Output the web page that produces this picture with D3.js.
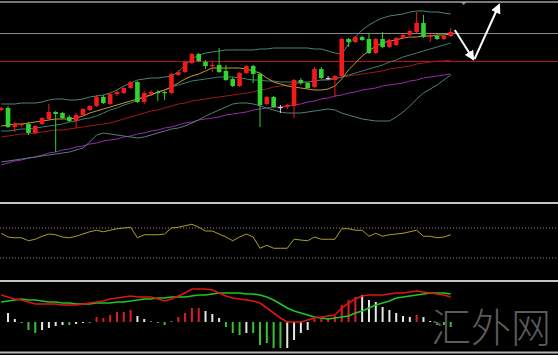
<!DOCTYPE html>
<html>
<head>
<meta charset="utf-8">
<script src="https://cdn.jsdelivr.net/npm/d3@7"></script>
<style>
body { margin: 0; background: #000; }
svg { display: block; }
</style>
</head>
<body>
<svg id="chart" width="558" height="355"></svg>
<script>
// candles (price units)
var opens  = [90,92,73,75,76,67,76,81,88,87,83,79,85,90,94,103,96,106,107,112,118,98,106,108,108,107,125,128,137,146,138,134,135,129,121,114,127,134,126,96,103,93,93,94,120,117,113,131,122,120,124,161,158,163,161,147,161,153,155,162,165,168,177,163,164,161,164];
var highs  = [93,94,78,77,78,75,83,96,89,88,85,87,92,95,105,105,107,110,113,119,119,109,110,110,109,127,130,139,147,147,140,138,152,135,123,128,135,135,127,104,104,95,96,121,122,118,133,133,124,125,162,162,164,164,167,162,168,161,163,166,170,188,185,166,165,165,172];
var lows   = [89,72,68,73,65,66,75,80,48,81,78,72,84,89,93,96,95,104,106,111,97,96,104,99,100,106,124,127,136,138,131,128,127,119,113,113,126,117,73,95,92,87,91,82,115,111,112,121,120,103,123,153,157,159,146,146,152,152,154,161,164,167,162,158,160,160,163];
var closes = [92,73,76,76,67,74,82,88,86,82,79,85,91,94,103,97,106,108,112,118,98,107,108,107,107,126,128,138,146,139,134,135,128,120,114,127,134,126,95,103,93,93,95,120,117,112,131,122,122,124,161,158,163,160,147,161,153,160,162,165,169,177,163,165,161,164,168];

// overlays on the price panel
var maFast   = [74,75,76,76,77,78,79,80,81,81,81,82,84,87,89,91,93,95,97,99,101,103,105,108,110,113,117,121,124,126,129,132,132,132,132,132,131,129,127,122,118,116,114,113,112,111,110,110,111,114,121,130,137,144,149,154,157,159,160,162,163,163,164,164,165,165,166];
var bandMid  = [69,69,70,71,71,72,73,74,75,76,78,79,81,82,84,87,90,92,95,97,100,103,105,108,110,113,115,117,119,120,121,122,123,123,123,122,121,120,120,119,119,118,118,118,118,118,119,120,120,121,123,125,127,129,131,133,135,138,140,143,145,147,149,151,153,155,157];
var bandUp   = [96,96,96,97,97,97,98,100,101,101,100,100,101,103,104,105,107,110,114,117,120,121,122,122,123,124,128,135,141,145,147,148,149,150,150,150,150,150,151,151,152,152,152,152,152,152,151,151,149,147,146,156,163,170,175,179,182,184,185,186,188,189,189,188,188,187,186];
var bandLow  = [38,39,40,41,42,43,44,45,46,47,48,50,52,58,65,67,66,65,64,63,62,63,65,67,69,71,72,74,77,80,84,87,90,93,96,97,97,96,94,92,90,88,87,87,87,88,89,90,91,90,87,85,83,81,80,79,79,79,83,88,94,101,107,111,115,120,125];
var maSlow   = [63,64,65,66,66,67,68,69,70,70,71,72,73,74,75,76,77,79,81,83,85,87,89,90,92,94,96,97,99,100,101,102,103,104,105,106,107,108,110,111,113,114,115,116,117,118,119,120,121,122,123,124,125,126,127,128,129,131,132,133,134,136,137,138,139,139,140];
var maLong   = [35,37,39,40,42,43,45,47,48,50,51,53,54,56,57,59,60,61,63,64,66,67,69,70,72,73,75,77,78,80,81,82,83,85,86,87,88,90,91,92,93,93,94,95,96,98,99,101,102,104,105,107,108,110,111,112,114,115,116,117,119,120,122,123,124,125,126];
var levels = [167, 139];

// RSI panel
var rsi = [63,58,57,57,53,55,59,62,61,58,57,59,62,65,67,65,67,69,70,71,57,61,61,61,62,70,71,73,75,71,66,66,62,58,53,58,62,58,43,47,43,43,43,55,54,53,58,55,55,55,69,69,67,67,59,63,59,61,62,63,65,67,59,59,57,58,61];
var rsiLevels = [70, 30];

// MACD panel
var macdLine = [2.7,2.5,2.3,2.2,2.0,1.8,1.8,1.8,1.8,1.7,1.7,1.7,1.8,1.9,2.0,2.1,2.3,2.4,2.5,2.6,2.5,2.5,2.5,2.3,2.1,2.3,2.6,2.9,3.3,3.3,3.3,3.2,2.9,2.6,2.4,2.3,2.2,2.1,1.9,1.4,0.9,0.4,0,0,0,0.2,0.4,0.5,0.6,0.7,1.4,1.9,2.3,2.6,2.7,2.7,2.7,2.8,2.9,2.9,3.0,3.1,3.0,2.9,2.8,2.7,2.5];
var signal   = [2.0,2.1,2.2,2.3,2.2,2.2,2.1,2.0,2.0,1.9,1.9,1.8,1.8,1.8,1.9,1.9,1.9,2.0,2.0,2.1,2.2,2.3,2.3,2.4,2.4,2.5,2.5,2.5,2.6,2.7,2.7,2.8,2.9,2.9,2.9,2.9,2.8,2.8,2.7,2.5,2.2,1.8,1.4,1.1,0.9,0.7,0.5,0.4,0.3,0.4,0.5,0.6,0.9,1.1,1.4,1.7,1.9,2.1,2.4,2.5,2.6,2.7,2.8,2.9,2.9,2.9,2.8];
var hist     = [0,0.9,0.3,-0.1,-0.8,-1.1,-0.8,-0.6,-0.4,-0.3,-0.3,-0.2,-0.1,-0.05,0.5,0.4,0.7,1.0,1.0,1.2,0.6,0.3,0.05,-0.1,-0.3,0.05,0.5,0.9,1.4,1.4,1.1,0.8,0.4,-0.5,-1.1,-1.3,-1.1,-1.1,-2.3,-2.1,-2.6,-2.6,-2.6,-1.8,-1.1,-0.8,0.3,0.3,0.4,0.6,1.7,2.2,2.5,2.7,2.2,2.0,1.5,1.2,0.9,0.6,0.5,0.7,0.5,0.1,-0.3,-0.3,-0.5];
var histColor = ["w","w","w","g","g","g","w","w","w","w","g","w","w","w","r","r","r","r","r","r","w","w","w","g","g","w","r","r","r","r","w","w","w","g","g","g","w","g","g","g","g","g","w","w","w","w","r","r","r","r","r","r","r","w","w","w","w","w","w","w","w","r","w","w","g","g","g"];

// hand-drawn arrow
var arrowDown = [[66.6, 170], [69.3, 141]];
var arrowUp = [[69.5, 141], [73.1, 195]];

var svg = d3.select("#chart");
var W = 558;

var x = d3.scaleLinear().domain([0, 66]).range([1.2, 450.7]);
var y = d3.scaleLinear().domain([0, 200]).range([200, 0]);
var yRsi = d3.scaleLinear().domain([0, 100]).range([280.5, 205.5]);
var yMacd = d3.scaleLinear().domain([-3, 4]).range([352, 282]);

svg.append("rect").attr("width", W).attr("height", 355).attr("fill", "#000");

var defs = svg.append("defs");
defs.append("clipPath").attr("id", "mainclip")
  .append("rect").attr("x", 0).attr("y", 3).attr("width", W).attr("height", 198);

var main = svg.append("g").attr("clip-path", "url(#mainclip)");

// level lines
main.selectAll(".level")
  .data(levels)
  .enter().append("line")
    .attr("x1", 0).attr("x2", W)
    .attr("y1", function(d) { return y(d) + 0.5; })
    .attr("y2", function(d) { return y(d) + 0.5; })
    .attr("stroke", function(d, i) { return i == 0 ? "#8a8a8a" : "#b01414"; })
    .attr("stroke-width", 1.2);

var overlays = [
  {v: maLong, c: "#9b2aa6"},
  {v: bandLow, c: "#4f8478"},
  {v: bandUp, c: "#4f8478"},
  {v: maSlow, c: "#9c1a1a"},
  {v: bandMid, c: "#3e7e70"},
  {v: maFast, c: "#c99a2a"}
];

var priceLine = d3.line()
  .x(function(d, i) { return x(i); })
  .y(function(d) { return y(d); });

main.selectAll(".ov")
  .data(overlays)
  .enter().append("path")
    .attr("d", function(d) { return priceLine(d.v); })
    .attr("fill", "none")
    .attr("stroke", function(d) { return d.c; })
    .attr("stroke-width", 1);

// candles
var candles = d3.range(opens.length).map(function(i) {
  return {i: i, o: opens[i], h: highs[i], l: lows[i], c: closes[i]};
});
function candleColor(d) {
  if (d.o == d.c) return "#d0d0d0";
  return d.c > d.o ? "#f21a1a" : "#2fd42f";
}
var cg = main.selectAll(".candle")
  .data(candles)
  .enter().append("g");
cg.append("line")
  .attr("x1", function(d) { return x(d.i); })
  .attr("x2", function(d) { return x(d.i); })
  .attr("y1", function(d) { return y(d.h); })
  .attr("y2", function(d) { return y(d.l); })
  .attr("stroke", candleColor)
  .attr("stroke-width", 1);
cg.append("rect")
  .attr("x", function(d) { return x(d.i) - 2.3; })
  .attr("width", 4.6)
  .attr("y", function(d) { return y(Math.max(d.o, d.c)); })
  .attr("height", function(d) { return Math.max(1.2, Math.abs(y(d.o) - y(d.c))); })
  .attr("fill", candleColor);

// arrow
defs.append("marker")
    .attr("id", "head")
    .attr("viewBox", "0 0 10 10")
    .attr("refX", 8).attr("refY", 5)
    .attr("markerWidth", 5).attr("markerHeight", 5)
    .attr("orient", "auto")
  .append("path")
    .attr("d", "M0,0L10,5L0,10z")
    .attr("fill", "#fff");

var arrowLine = d3.line()
  .x(function(d) { return x(d[0]); })
  .y(function(d) { return y(d[1]); });

[arrowDown, arrowUp].forEach(function(a) {
  svg.append("path")
    .attr("d", arrowLine(a))
    .attr("stroke", "#fff")
    .attr("stroke-width", 2)
    .attr("fill", "none")
    .attr("marker-end", "url(#head)");
});

svg.append("path")
  .attr("d", "M" + (x(67.9) - 3) + "," + y(198) + "L" + (x(67.9) + 3) + "," + y(198) + "L" + x(67.9) + "," + y(195) + "z")
  .attr("fill", "#8a8a8a");

// RSI
svg.selectAll(".rsilevel")
  .data(rsiLevels)
  .enter().append("line")
    .attr("x1", 0).attr("x2", W)
    .attr("y1", function(d) { return yRsi(d); })
    .attr("y2", function(d) { return yRsi(d); })
    .attr("stroke", "#8c8c8c")
    .attr("stroke-dasharray", "1,2")
    .attr("stroke-width", 1);

svg.append("path")
  .attr("d", d3.line()
    .x(function(d, i) { return x(i); })
    .y(function(d) { return yRsi(d); })(rsi))
  .attr("fill", "none")
  .attr("stroke", "#a9a224")
  .attr("stroke-width", 1);

// MACD
svg.selectAll(".bar")
  .data(hist)
  .enter().append("rect")
    .attr("x", function(d, i) { return x(i) - 1; })
    .attr("width", 2)
    .attr("y", function(d) { return yMacd(Math.max(0, d)); })
    .attr("height", function(d) { return Math.abs(yMacd(d) - yMacd(0)); })
    .attr("fill", function(d, i) {
      return histColor[i] == "r" ? "#e01c1c" : histColor[i] == "g" ? "#35c235" : "#e6e6e6";
    });

var macdPath = d3.line()
  .x(function(d, i) { return x(i); })
  .y(function(d) { return yMacd(d); });

svg.append("path")
  .attr("d", macdPath(signal))
  .attr("fill", "none")
  .attr("stroke", "#1ec81e")
  .attr("stroke-width", 1.6);

svg.append("path")
  .attr("d", macdPath(macdLine))
  .attr("fill", "none")
  .attr("stroke", "#e01414")
  .attr("stroke-width", 1.6);

// panel borders
var borders = [{y: 2, w: 1.5, c: "#a0a0a0"}, {y: 203, w: 2, c: "#c4c4c4"}, {y: 281, w: 2, c: "#c4c4c4"}, {y: 352.5, w: 2, c: "#b8b8b8"}];
svg.selectAll(".border")
  .data(borders)
  .enter().append("line")
    .attr("x1", 0).attr("x2", W)
    .attr("y1", function(d) { return d.y; })
    .attr("y2", function(d) { return d.y; })
    .attr("stroke", function(d) { return d.c; })
    .attr("stroke-width", function(d) { return d.w; });

// watermark
svg.append("text")
  .attr("x", 431)
  .attr("y", 342)
  .attr("font-family", "'Noto Sans CJK SC', sans-serif")
  .attr("font-weight", 300)
  .attr("font-size", 40)
  .attr("fill", "#5c5c5c")
  .text("汇外网");
</script>
</body>
</html>
